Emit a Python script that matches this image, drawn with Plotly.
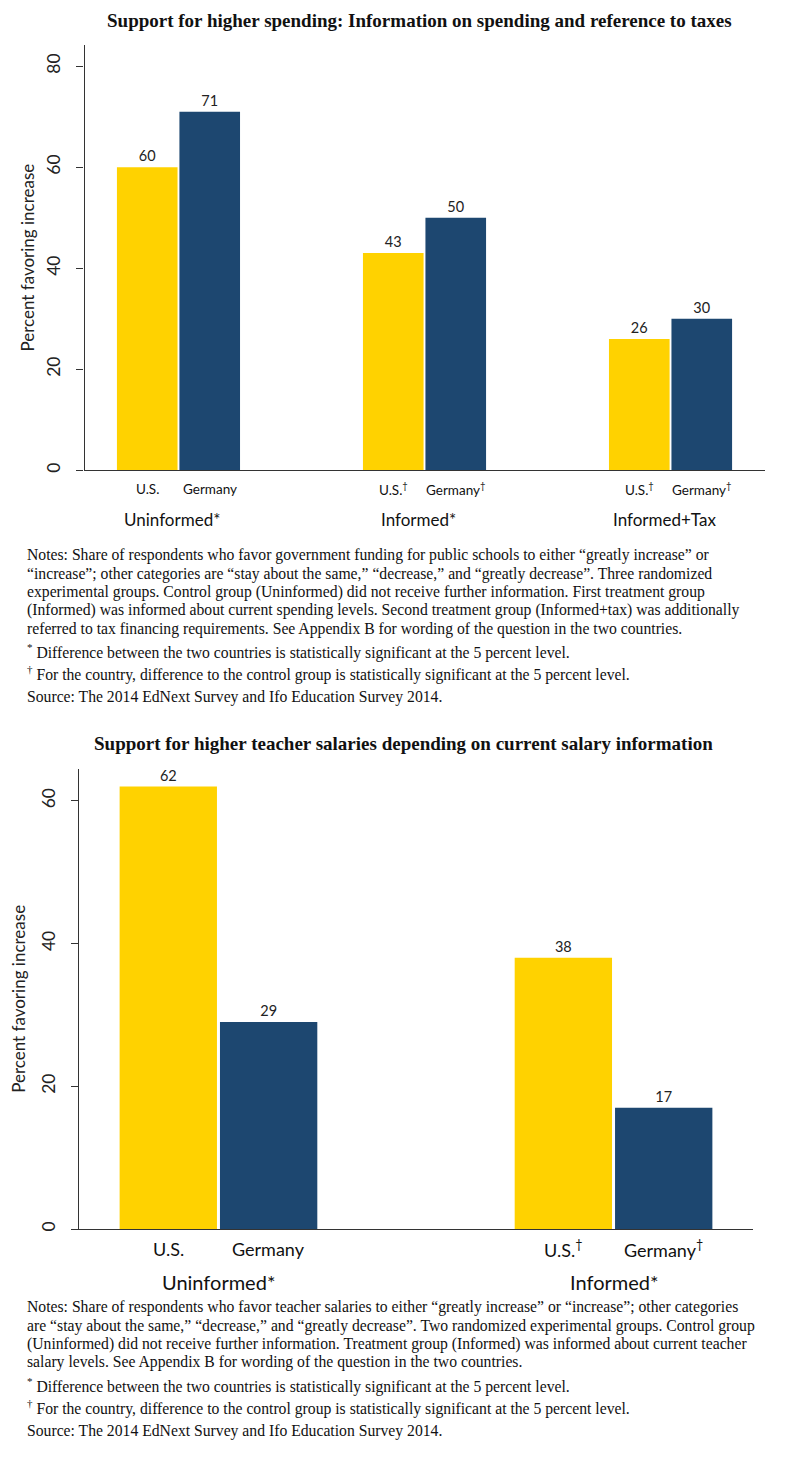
import plotly.graph_objects as go

W, H = 809, 1481

# ---------------- data ----------------
top_groups = ["Uninformed*", "Informed*", "Informed+Tax"]
top_us = [60, 43, 26]
top_de = [71, 50, 30]
top_us_labels = ["U.S.", "U.S.<sup>†</sup>", "U.S.<sup>†</sup>"]
top_de_labels = ["Germany", "Germany<sup>†</sup>", "Germany<sup>†</sup>"]

bot_groups = ["Uninformed*", "Informed*"]
bot_us = [62, 38]
bot_de = [29, 17]
bot_us_labels = ["U.S.", "U.S.<sup>†</sup>"]
bot_de_labels = ["Germany", "Germany<sup>†</sup>"]

top_title = "Support for higher spending: Information on spending and reference to taxes"
bot_title = "Support for higher teacher salaries depending on current salary information"
y_title = "Percent favoring increase"

top_notes = [
    "Notes: Share of respondents who favor government funding for public schools to either “greatly increase” or",
    "“increase”; other categories are “stay about the same,” “decrease,” and “greatly decrease”. Three randomized",
    "experimental groups. Control group (Uninformed) did not receive further information. First treatment group",
    "(Informed) was informed about current spending levels. Second treatment group (Informed+tax) was additionally",
    "referred to tax financing requirements. See Appendix B for wording of the question in the two countries.",
]
bot_notes = [
    "Notes: Share of respondents who favor teacher salaries to either “greatly increase” or “increase”; other categories",
    "are “stay about the same,” “decrease,” and “greatly decrease”. Two randomized experimental groups. Control group",
    "(Uninformed) did not receive further information. Treatment group (Informed) was informed about current teacher",
    "salary levels. See Appendix B for wording of the question in the two countries.",
]
footnotes = [
    "<sup>*</sup> Difference between the two countries is statistically significant at the 5 percent level.",
    "<sup>†</sup> For the country, difference to the control group is statistically significant at the 5 percent level.",
    "Source: The 2014 EdNext Survey and Ifo Education Survey 2014.",
]

# ---------------- styling ----------------
GOLD = "#FFD200"
NAVY = "#1D4770"
AXC = "#333333"
SANS = "Lato, Open Sans, sans-serif"
SERIF = "Liberation Serif, Times New Roman, serif"


def px_x(x):
    return x / W


def px_y(y):
    return 1 - y / H


fig = go.Figure()

fig.add_trace(go.Bar(x=top_groups, y=top_us, marker_color=GOLD, text=top_us,
                     textposition="outside", cliponaxis=False,
                     xaxis="x", yaxis="y", name="U.S."))
fig.add_trace(go.Bar(x=top_groups, y=top_de, marker_color=NAVY, text=top_de,
                     textposition="outside", cliponaxis=False,
                     xaxis="x", yaxis="y", name="Germany"))
fig.add_trace(go.Bar(x=bot_groups, y=bot_us, marker_color=GOLD, text=bot_us,
                     textposition="outside", cliponaxis=False,
                     xaxis="x2", yaxis="y2", name="U.S."))
fig.add_trace(go.Bar(x=bot_groups, y=bot_de, marker_color=NAVY, text=bot_de,
                     textposition="outside", cliponaxis=False,
                     xaxis="x2", yaxis="y2", name="Germany"))

fig.update_traces(marker_line_width=0, textfont=dict(family=SANS, size=14.5, color="#222"))

yaxis_common = dict(showline=True, linecolor=AXC, linewidth=1.3, ticks="outside",
                    ticklen=7, tickcolor=AXC, tickwidth=1.3, tickangle=-90,
                    tickfont=dict(family=SANS, size=17.5, color="#222"),
                    showgrid=False, zeroline=False, dtick=20, ticklabelstandoff=9)
xaxis_common = dict(showline=True, linecolor=AXC, linewidth=1.3, ticks="",
                    showticklabels=False, showgrid=False, zeroline=False)

fig.update_layout(
    width=W, height=H,
    margin=dict(l=0, r=0, t=0, b=0),
    paper_bgcolor="white", plot_bgcolor="white",
    showlegend=False,
    barmode="group",
    bargap=0.492, bargroupgap=0.03,
    xaxis=dict(xaxis_common, domain=[px_x(76.5), px_x(757)], range=[-0.382, 2.384],
               anchor="y"),
    yaxis=dict(yaxis_common, domain=[px_y(463), px_y(37)], range=[0, 84.2], anchor="x",
               title=dict(text=y_title, standoff=4,
                          font=dict(family=SANS, size=17, color="#222"))),
    xaxis2=dict(xaxis_common, domain=[px_x(71), px_x(745)], range=[-0.353, 1.353],
                anchor="y2"),
    yaxis2=dict(yaxis_common, domain=[px_y(1222.7), px_y(761.7)], range=[0, 64.5], anchor="x2",
                title=dict(text=y_title, standoff=12,
                           font=dict(family=SANS, size=17, color="#222"))),
)

ann = []
ann.append(dict(text="<b>" + top_title + "</b>", x=px_x(411), y=px_y(13), xref="paper", yref="paper",
                showarrow=False, xanchor="center", yanchor="middle",
                font=dict(family=SERIF, size=19, color="#111")))
ann.append(dict(text="<b>" + bot_title + "</b>", x=px_x(395), y=px_y(736), xref="paper", yref="paper",
                showarrow=False, xanchor="center", yanchor="middle",
                font=dict(family=SERIF, size=19, color="#111")))

for i, g in enumerate(top_groups):
    ann.append(dict(text=top_us_labels[i], x=i - 0.127, y=px_y(482), xref="x", yref="paper",
                    showarrow=False, xanchor="center", yanchor="middle",
                    font=dict(family=SANS, size=13.5, color="#111")))
    ann.append(dict(text=top_de_labels[i], x=i + 0.127, y=px_y(482), xref="x", yref="paper",
                    showarrow=False, xanchor="center", yanchor="middle",
                    font=dict(family=SANS, size=13.5, color="#111")))
    ann.append(dict(text=g, x=i, y=px_y(512), xref="x", yref="paper", xshift=-6,
                    showarrow=False, xanchor="center", yanchor="middle",
                    font=dict(family=SANS, size=17, color="#111")))
for i, g in enumerate(bot_groups):
    ann.append(dict(text=bot_us_labels[i], x=i - 0.127, y=px_y(1243), xref="x2", yref="paper",
                    showarrow=False, xanchor="center", yanchor="middle",
                    font=dict(family=SANS, size=18, color="#111")))
    ann.append(dict(text=bot_de_labels[i], x=i + 0.127, y=px_y(1243), xref="x2", yref="paper",
                    showarrow=False, xanchor="center", yanchor="middle",
                    font=dict(family=SANS, size=18, color="#111")))
    ann.append(dict(text=g, x=i, y=px_y(1276), xref="x2", yref="paper",
                    showarrow=False, xanchor="center", yanchor="middle",
                    font=dict(family=SANS, size=20, color="#111")))


def add_lines(lines, y0, step):
    for k, line in enumerate(lines):
        ann.append(dict(text=line, x=px_x(17), y=px_y(y0 + k * step), xref="paper", yref="paper",
                        showarrow=False, xanchor="left", yanchor="middle", align="left",
                        font=dict(family=SERIF, size=15.7, color="#111")))


add_lines(top_notes, 548, 18.4)
add_lines(footnotes, 644, 22.8)
add_lines(bot_notes, 1301, 18.4)
add_lines(footnotes, 1379, 22.8)

fig.update_layout(annotations=ann)
fig.write_html("out.html")
